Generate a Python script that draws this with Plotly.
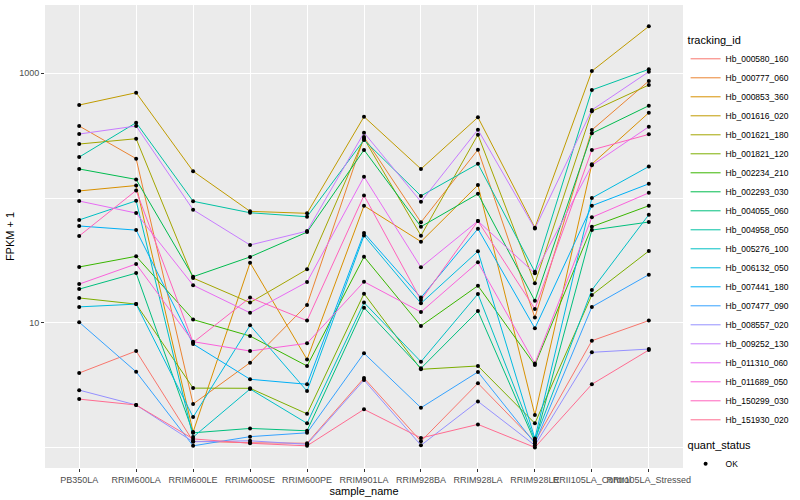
import plotly.graph_objects as go

samples = ["PB350LA", "RRIM600LA", "RRIM600LE", "RRIM600SE", "RRIM600PE",
           "RRIM901LA", "RRIM928BA", "RRIM928LA", "RRIM928LE",
           "RRII105LA_Control", "RRII105LA_Stressed"]

# FPKM + 1 per gene, one value per sample (in the order of `samples`)
hb_000580_160 = [3.95, 5.93, 1.12, 1.09, 1.08, 3.60, 1.12, 3.27, 1.11, 7.17, 10.4]
hb_000777_060 = [378, 207, 2.23, 4.78, 13.9, 308, 63.9, 244, 11.0, 351, 868]
hb_000853_360 = [114, 126, 1.33, 30.3, 5.08, 86.7, 44.7, 127, 1.82, 187, 483]
hb_001616_020 = [557, 699, 164, 78.2, 75.4, 449, 171, 444, 57.8, 1042, 2382]
hb_001621_180 = [271, 299, 22.8, 14.5, 26.8, 300, 49.9, 322, 20.7, 496, 806]
hb_001821_120 = [15.8, 14.1, 2.99, 2.98, 1.86, 17.1, 4.23, 4.50, 1.56, 16.7, 37.6]
hb_002234_210 = [28.0, 34.1, 10.6, 7.82, 4.50, 33.8, 9.42, 19.8, 4.58, 58.9, 86.7]
hb_002293_030 = [171, 141, 23.4, 33.7, 53.3, 243, 58.9, 108, 15.0, 330, 550]
hb_004055_060 = [18.6, 25.0, 1.31, 1.42, 1.36, 13.2, 4.31, 12.4, 1.11, 55.3, 64.2]
hb_004958_050 = [213, 402, 94.2, 76.2, 70.8, 292, 104, 188, 25.6, 735, 1077]
hb_005276_100 = [66.7, 95.0, 1.21, 2.94, 1.56, 14.5, 4.87, 17.0, 1.15, 18.3, 73.5]
hb_006132_050 = [13.4, 14.1, 1.75, 9.53, 2.83, 50.0, 14.3, 37.4, 1.18, 100, 179]
hb_007441_180 = [59.7, 55.3, 6.75, 3.52, 3.21, 52.4, 15.9, 56.7, 9.02, 86.7, 130]
hb_007477_090 = [10.1, 4.04, 1.03, 1.22, 1.31, 5.69, 2.08, 4.03, 1.08, 13.4, 24.3]
hb_008557_020 = [2.88, 2.19, 1.11, 1.13, 1.06, 3.47, 1.04, 2.34, 1.04, 5.79, 6.15]
hb_009252_130 = [326, 378, 80.5, 42.0, 54.3, 334, 93.4, 353, 56.9, 508, 1030]
hb_011310_060 = [94.6, 75.8, 20.0, 12.0, 21.2, 148, 27.8, 65.4, 24.9, 183, 373]
hb_011689_050 = [20.4, 29.6, 7.05, 5.93, 6.84, 21.3, 12.2, 30.5, 4.72, 70.0, 110]
hb_150299_030 = [49.6, 115, 6.94, 15.9, 10.4, 105, 15.2, 65.4, 12.9, 243, 324]
hb_151930_020 = [2.44, 2.19, 1.17, 1.08, 1.03, 2.02, 1.19, 1.53, 1.00, 3.21, 6.04]

tracking_ids = ["Hb_000580_160", "Hb_000777_060", "Hb_000853_360", "Hb_001616_020",
                "Hb_001621_180", "Hb_001821_120", "Hb_002234_210", "Hb_002293_030",
                "Hb_004055_060", "Hb_004958_050", "Hb_005276_100", "Hb_006132_050",
                "Hb_007441_180", "Hb_007477_090", "Hb_008557_020", "Hb_009252_130",
                "Hb_011310_060", "Hb_011689_050", "Hb_150299_030", "Hb_151930_020"]

series = [hb_000580_160, hb_000777_060, hb_000853_360, hb_001616_020, hb_001621_180,
          hb_001821_120, hb_002234_210, hb_002293_030, hb_004055_060, hb_004958_050,
          hb_005276_100, hb_006132_050, hb_007441_180, hb_007477_090, hb_008557_020,
          hb_009252_130, hb_011310_060, hb_011689_050, hb_150299_030, hb_151930_020]

colors = ["#F8766D", "#EA8331", "#D89000", "#C09B00", "#A3A500", "#7CAE00", "#39B600",
          "#00BB4E", "#00BF7D", "#00C1A3", "#00BFC4", "#00BAE0", "#00B0F6", "#35A2FF",
          "#9590FF", "#C77CFF", "#E76BF3", "#FA62DB", "#FF62BC", "#FF6C91"]

FONT = "Liberation Sans, Arial, sans-serif"

fig = go.Figure()
for name, vals, col in zip(tracking_ids, series, colors):
    fig.add_trace(go.Scatter(
        x=samples, y=vals, mode="lines", name=name,
        line=dict(color=col, width=1), legend="legend",
    ))

all_x = [s for _ in series for s in samples]
all_y = [v for vals in series for v in vals]
fig.add_trace(go.Scatter(
    x=all_x, y=all_y, mode="markers", name="OK",
    marker=dict(color="black", size=4, symbol="circle"),
    legend="legend2",
))

fig.update_layout(
    width=800, height=500,
    margin=dict(l=45, r=117, t=5, b=32, autoexpand=False),
    paper_bgcolor="white", plot_bgcolor="#EBEBEB",
    font=dict(family=FONT, color="#000000"),
    showlegend=True,
    legend=dict(
        title=dict(text="tracking_id", font=dict(size=11, color="#000")),
        font=dict(size=8.5, color="#000"),
        xref="container", yref="container",
        x=0.857, xanchor="left", y=0.94, yanchor="top",
        bgcolor="rgba(0,0,0,0)", tracegroupgap=0, itemwidth=30, maxheight=470,
    ),
    legend2=dict(
        title=dict(text="quant_status", font=dict(size=11, color="#000")),
        font=dict(size=8.5, color="#000"),
        xref="container", yref="container",
        x=0.857, xanchor="left", y=0.13, yanchor="top",
        bgcolor="rgba(0,0,0,0)", maxheight=100,
    ),
    xaxis=dict(
        type="category", categoryorder="array", categoryarray=samples,
        range=[-0.6, 10.6], tickangle=0, automargin=False,
        showgrid=True, gridcolor="white", gridwidth=1.1,
        ticks="outside", ticklen=3, tickcolor="#333333", tickwidth=1,
        tickfont=dict(size=9, color="#4D4D4D"),
        title=dict(text="sample_name", font=dict(size=11), standoff=2),
        zeroline=False, showline=False,
    ),
    yaxis=dict(
        type="log", range=[-0.165, 3.548], automargin=False,
        tickmode="array", tickvals=[10, 1000], ticktext=["10", "1000"],
        showgrid=True, gridcolor="white", gridwidth=1.1,
        minor=dict(tickmode="array", tickvals=[1, 100], showgrid=True,
                   gridcolor="white", gridwidth=0.55, ticks="", ticklen=0),
        ticks="outside", ticklen=3, tickcolor="#333333", tickwidth=1,
        tickfont=dict(size=9, color="#4D4D4D"),
        title=dict(text="FPKM + 1", font=dict(size=11), standoff=2),
        zeroline=False, showline=False,
    ),
)

fig.write_html("out.html", config={"displayModeBar": False},
               post_script="document.body.style.margin='0';document.body.style.padding='0';")
